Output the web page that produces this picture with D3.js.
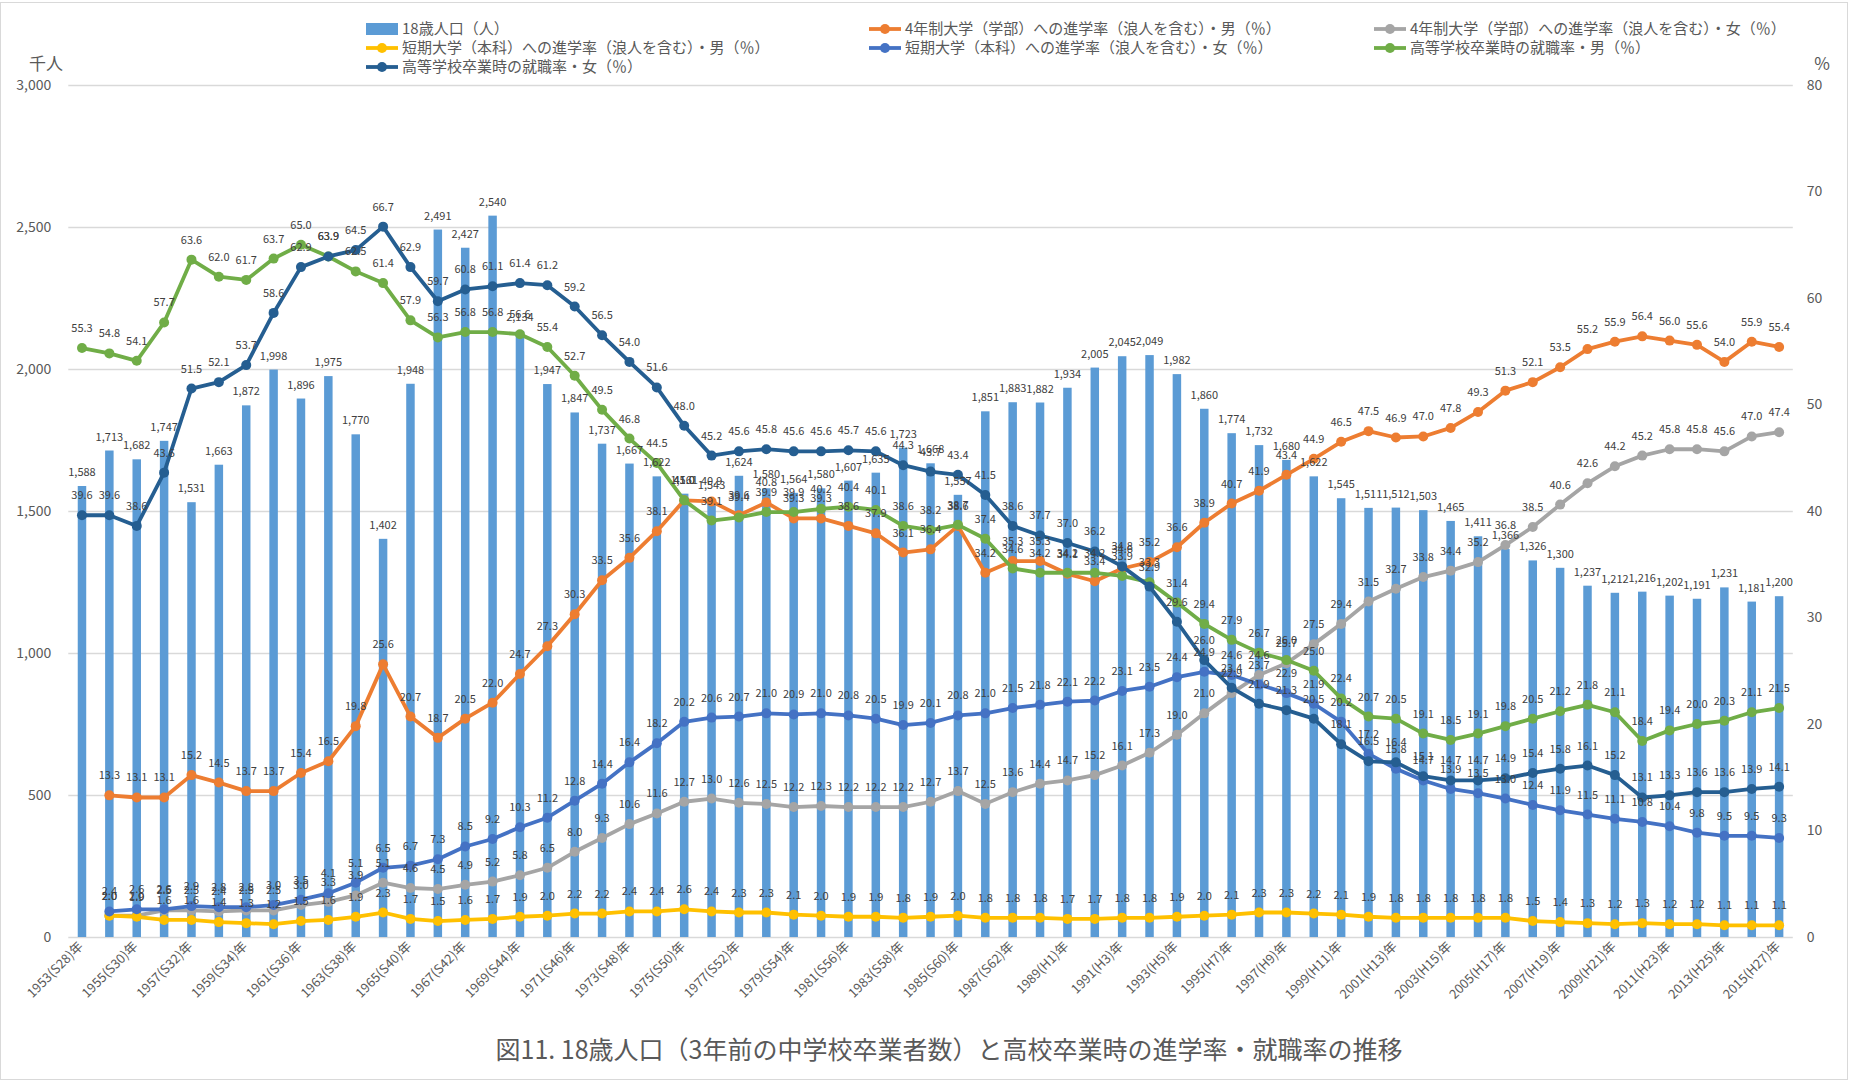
<!DOCTYPE html>
<html>
<head>
<meta charset="utf-8">
<script src="https://cdn.jsdelivr.net/npm/d3@7"></script>
<style>
body { margin: 0; background: #fff; }
svg { display: block; font-family: "Noto Sans CJK JP", "Noto Sans", sans-serif; }
</style>
</head>
<body>
<svg id="chart" width="1849" height="1081"></svg>
<script>
/* categories (x axis) */
var years = [
	'1953(S28)年','1954(S29)年','1955(S30)年','1956(S31)年','1957(S32)年','1958(S33)年','1959(S34)年','1960(S35)年','1961(S36)年','1962(S37)年',
	'1963(S38)年','1964(S39)年','1965(S40)年','1966(S41)年','1967(S42)年','1968(S43)年','1969(S44)年','1970(S45)年','1971(S46)年','1972(S47)年',
	'1973(S48)年','1974(S49)年','1975(S50)年','1976(S51)年','1977(S52)年','1978(S53)年','1979(S54)年','1980(S55)年','1981(S56)年','1982(S57)年',
	'1983(S58)年','1984(S59)年','1985(S60)年','1986(S61)年','1987(S62)年','1988(S63)年','1989(H1)年','1990(H2)年','1991(H3)年','1992(H4)年',
	'1993(H5)年','1994(H6)年','1995(H7)年','1996(H8)年','1997(H9)年','1998(H10)年','1999(H11)年','2000(H12)年','2001(H13)年','2002(H14)年',
	'2003(H15)年','2004(H16)年','2005(H17)年','2006(H18)年','2007(H19)年','2008(H20)年','2009(H21)年','2010(H22)年','2011(H23)年','2012(H24)年',
	'2013(H25)年','2014(H26)年','2015(H27)年'
];

/* 18歳人口 (千人) */
var population = [
	1588,1713,1682,1747,1531,1663,1872,1998,1896,1975,
	1770,1402,1948,2491,2427,2540,2134,1947,1847,1737,
	1667,1622,1561,1543,1624,1580,1564,1580,1607,1635,
	1723,1668,1557,1851,1883,1882,1934,2005,2045,2049,
	1982,1860,1774,1732,1680,1622,1545,1511,1512,1503,
	1465,1411,1366,1326,1300,1237,1212,1216,1202,1191,
	1231,1181,1200
];

/* rates (%) */
var univMale = [
	null,13.3,13.1,13.1,15.2,14.5,13.7,13.7,15.4,16.5,
	19.8,25.6,20.7,18.7,20.5,22.0,24.7,27.3,30.3,33.5,
	35.6,38.1,41.0,40.9,39.6,40.8,39.3,39.3,38.6,37.9,
	36.1,36.4,38.6,34.2,35.3,35.3,34.1,33.4,34.6,35.2,
	36.6,38.9,40.7,41.9,43.4,44.9,46.5,47.5,46.9,47.0,
	47.8,49.3,51.3,52.1,53.5,55.2,55.9,56.4,56.0,55.6,
	54.0,55.9,55.4
];
var univFemale = [
	null,2.0,2.0,2.5,2.5,2.4,2.5,2.5,3.0,3.3,
	3.9,5.1,4.6,4.5,4.9,5.2,5.8,6.5,8.0,9.3,
	10.6,11.6,12.7,13.0,12.6,12.5,12.2,12.3,12.2,12.2,
	12.2,12.7,13.7,12.5,13.6,14.4,14.7,15.2,16.1,17.3,
	19.0,21.0,22.9,24.6,25.7,27.5,29.4,31.5,32.7,33.8,
	34.4,35.2,36.8,38.5,40.6,42.6,44.2,45.2,45.8,45.8,
	45.6,47.0,47.4
];
var juniorMale = [
	null,2.0,1.9,1.6,1.6,1.4,1.3,1.2,1.5,1.6,
	1.9,2.3,1.7,1.5,1.6,1.7,1.9,2.0,2.2,2.2,
	2.4,2.4,2.6,2.4,2.3,2.3,2.1,2.0,1.9,1.9,
	1.8,1.9,2.0,1.8,1.8,1.8,1.7,1.7,1.8,1.8,
	1.9,2.0,2.1,2.3,2.3,2.2,2.1,1.9,1.8,1.8,
	1.8,1.8,1.8,1.5,1.4,1.3,1.2,1.3,1.2,1.2,
	1.1,1.1,1.1
];
var juniorFemale = [
	null,2.4,2.6,2.6,2.9,2.8,2.8,3.0,3.5,4.1,
	5.1,6.5,6.7,7.3,8.5,9.2,10.3,11.2,12.8,14.4,
	16.4,18.2,20.2,20.6,20.7,21.0,20.9,21.0,20.8,20.5,
	19.9,20.1,20.8,21.0,21.5,21.8,22.1,22.2,23.1,23.5,
	24.4,24.9,24.6,23.7,22.9,21.9,20.2,17.2,15.8,14.7,
	13.9,13.5,13.0,12.4,11.9,11.5,11.1,10.8,10.4,9.8,
	9.5,9.5,9.3
];
var jobMale = [
	55.3,54.8,54.1,57.7,63.6,62.0,61.7,63.7,65.0,63.9,
	62.5,61.4,57.9,56.3,56.8,56.8,56.6,55.4,52.7,49.5,
	46.8,44.5,41.0,39.1,39.4,39.9,39.9,40.2,40.4,40.1,
	38.6,38.2,38.7,37.4,34.6,34.2,34.2,34.2,33.9,33.3,
	31.4,29.4,27.9,26.7,26.0,25.0,22.4,20.7,20.5,19.1,
	18.5,19.1,19.8,20.5,21.2,21.8,21.1,18.4,19.4,20.0,
	20.3,21.1,21.5
];
var jobFemale = [
	39.6,39.6,38.6,43.6,51.5,52.1,53.7,58.6,62.9,63.9,
	64.5,66.7,62.9,59.7,60.8,61.1,61.4,61.2,59.2,56.5,
	54.0,51.6,48.0,45.2,45.6,45.8,45.6,45.6,45.7,45.6,
	44.3,43.7,43.4,41.5,38.6,37.7,37.0,36.2,34.8,32.9,
	29.6,26.0,23.4,21.9,21.3,20.5,18.1,16.5,16.4,15.1,
	14.7,14.7,14.9,15.4,15.8,16.1,15.2,13.1,13.3,13.6,
	13.6,13.9,14.1
];

/* axis ticks */
var leftTicks = [0, 500, 1000, 1500, 2000, 2500, 3000];
var rightTicks = [0, 10, 20, 30, 40, 50, 60, 70, 80];

var barName = '18歳人口（人）';
var lineSeries = [
	{ name: '4年制大学（学部）への進学率（浪人を含む）・男（％）', values: univMale, color: '#ED7D31' },
	{ name: '4年制大学（学部）への進学率（浪人を含む）・女（％）', values: univFemale, color: '#A5A5A5' },
	{ name: '短期大学（本科）への進学率（浪人を含む）・男（％）', values: juniorMale, color: '#FFC000' },
	{ name: '短期大学（本科）への進学率（浪人を含む）・女（％）', values: juniorFemale, color: '#4472C4' },
	{ name: '高等学校卒業時の就職率・男（％）', values: jobMale, color: '#70AD47' },
	{ name: '高等学校卒業時の就職率・女（％）', values: jobFemale, color: '#255E91' }
];

var plot = { left: 68.3, right: 1792.8, top: 85, bottom: 937 };
var svg = d3.select('#chart');

svg.append('rect')
	.attr('x', 0.5).attr('y', 2.5)
	.attr('width', 1847).attr('height', 1077)
	.attr('fill', '#fff')
	.attr('stroke', '#d9d9d9');

var x = d3.scaleBand()
	.domain(years)
	.range([plot.left, plot.right])
	.paddingInner(0.69)
	.paddingOuter(0.345);
var cx = function(d) { return x(d) + x.bandwidth() / 2; };

var yL = d3.scaleLinear().domain([0, 3000]).range([plot.bottom, plot.top]);
var yR = d3.scaleLinear().domain([0, 80]).range([plot.bottom, plot.top]);

// gridlines
svg.append('g')
	.selectAll('line')
	.data(leftTicks)
	.enter().append('line')
	.attr('x1', plot.left).attr('x2', plot.right)
	.attr('y1', d => Math.round(yL(d)) + 0.5)
	.attr('y2', d => Math.round(yL(d)) + 0.5)
	.attr('stroke', '#d9d9d9')
	.attr('stroke-width', 1.3);

// axes
var leftAxis = svg.append('g')
	.attr('transform', 'translate(' + plot.left + ',0)')
	.call(d3.axisLeft(yL).tickValues(leftTicks).tickFormat(d3.format(',')).tickSize(0).tickPadding(17));
var rightAxis = svg.append('g')
	.attr('transform', 'translate(' + plot.right + ',0)')
	.call(d3.axisRight(yR).tickValues(rightTicks).tickSize(0).tickPadding(14));
[leftAxis, rightAxis].forEach(function(a) {
	a.select('.domain').remove();
	a.selectAll('text')
		.attr('fill', '#595959')
		.style('font-size', '14px')
		.style('font-family', '"Noto Sans CJK JP", sans-serif');
});

svg.append('text')
	.attr('x', 46).attr('y', 70)
	.attr('text-anchor', 'middle')
	.attr('fill', '#595959')
	.style('font-size', '17px')
	.text('千人');
svg.append('text')
	.attr('x', 1822).attr('y', 70)
	.attr('text-anchor', 'middle')
	.attr('fill', '#595959')
	.style('font-size', '17px')
	.text('%');

// x axis labels (every other year)
svg.append('g')
	.selectAll('text')
	.data(years.filter((d, i) => i % 2 === 0))
	.enter().append('text')
	.attr('transform', d => 'translate(' + (cx(d) + 2) + ',' + (plot.bottom + 10) + ') rotate(-45)')
	.attr('text-anchor', 'end')
	.attr('fill', '#595959')
	.style('font-size', '13px')
	.text(d => d);

// bars
svg.append('g')
	.selectAll('rect')
	.data(population)
	.enter().append('rect')
	.attr('x', (d, i) => x(years[i]))
	.attr('width', x.bandwidth())
	.attr('y', d => yL(d))
	.attr('height', d => plot.bottom - yL(d))
	.attr('fill', '#5B9BD5');

// lines
var line = d3.line()
	.defined(d => d.v !== null)
	.x(d => cx(d.year))
	.y(d => yR(d.v));

lineSeries.forEach(function(s) {
	var pts = s.values.map((v, i) => ({ year: years[i], v: v }));
	var g = svg.append('g');
	g.append('path')
		.datum(pts)
		.attr('d', line)
		.attr('fill', 'none')
		.attr('stroke', s.color)
		.attr('stroke-width', 3.8)
		.attr('stroke-linejoin', 'round');
	g.selectAll('circle')
		.data(pts.filter(p => p.v !== null))
		.enter().append('circle')
		.attr('cx', p => cx(p.year))
		.attr('cy', p => yR(p.v))
		.attr('r', 5)
		.attr('fill', s.color);
});

// data labels
var labels = svg.append('g')
	.attr('fill', '#404040')
	.style('font-size', '11px')
	.attr('text-anchor', 'middle');

labels.selectAll('text.bar')
	.data(population)
	.enter().append('text')
	.attr('class', 'bar')
	.attr('x', (d, i) => cx(years[i]))
	.attr('y', d => yL(d) - 10)
	.text(d => d3.format(',')(d));

lineSeries.forEach(function(s, k) {
	labels.selectAll('text.s' + k)
		.data(s.values.map((v, i) => ({ year: years[i], v: v })).filter(p => p.v !== null))
		.enter().append('text')
		.attr('class', 's' + k)
		.attr('x', p => cx(p.year))
		.attr('y', p => yR(p.v) - 16)
		.text(p => p.v.toFixed(1));
});

// legend
var legendCols = [366, 869, 1374];
var legendRows = [29, 48, 67];
var legendItems = [{ name: barName, color: '#5B9BD5', bar: true }].concat(lineSeries);
var legend = svg.append('g')
	.style('font-size', '15px')
	.attr('fill', '#595959');

legendItems.forEach(function(item, i) {
	var lx = legendCols[i % 3], ly = legendRows[Math.floor(i / 3)];
	if (item.bar) {
		legend.append('rect')
			.attr('x', lx).attr('y', ly - 6)
			.attr('width', 32).attr('height', 12)
			.attr('fill', item.color);
	} else {
		legend.append('line')
			.attr('x1', lx).attr('x2', lx + 32)
			.attr('y1', ly).attr('y2', ly)
			.attr('stroke', item.color)
			.attr('stroke-width', 3.8);
		legend.append('circle')
			.attr('cx', lx + 16).attr('cy', ly)
			.attr('r', 5)
			.attr('fill', item.color);
	}
	legend.append('text')
		.attr('x', lx + 36).attr('y', ly + 5)
		.text(item.name);
});

// title
svg.append('text')
	.attr('x', 949).attr('y', 1059)
	.attr('text-anchor', 'middle')
	.attr('fill', '#595959')
	.style('font-size', '25px')
	.text('図11. 18歳人口（3年前の中学校卒業者数）と高校卒業時の進学率・就職率の推移');
</script>
</body>
</html>
